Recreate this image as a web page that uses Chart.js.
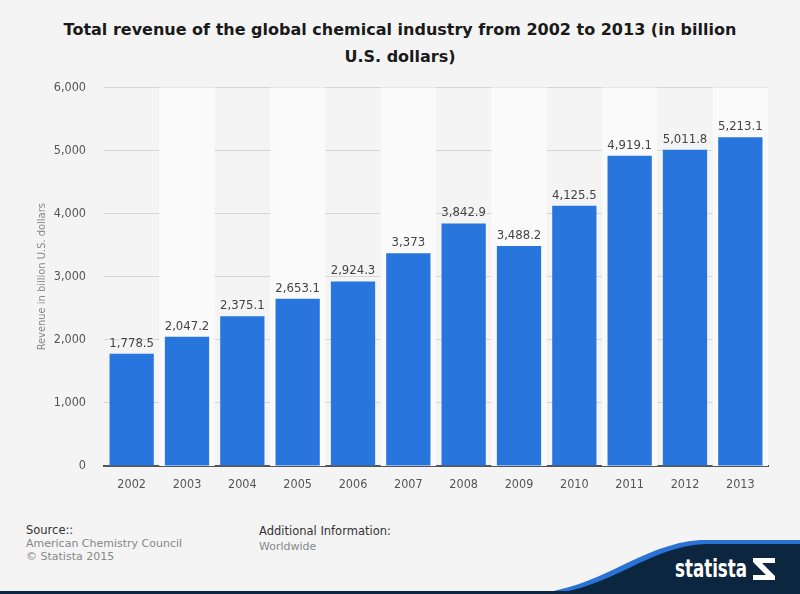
<!DOCTYPE html>
<html>
<head>
<meta charset="utf-8">
<script src="https://cdn.jsdelivr.net/npm/chart.js@4"></script>
<style>
  html, body { margin: 0; padding: 0; }
  body { width: 800px; height: 594px; background: #f4f4f4; position: relative; overflow: hidden;
         font-family: "DejaVu Sans", sans-serif; }
  #title { position: absolute; top: 16px; left: 40px; width: 720px; text-align: center;
           font-weight: bold; font-size: 16px; line-height: 27px; color: #1a1a1a; }
  #wrap { position: absolute; left: 0; top: 62px; width: 775px; height: 433px; }
  .src { position: absolute; font-size: 11px; line-height: 13px; color: #888; }
  .src b { font-weight: normal; color: #333; font-size: 11.5px; }
</style>
</head>
<body>
<div id="title">Total revenue of the global chemical industry from 2002 to 2013 (in billion<br>U.S. dollars)</div>
<div id="wrap"><canvas id="barChart"></canvas></div>
<div class="src" style="left:26px; top:524px;"><b>Source::</b><br>American Chemistry Council<br>© Statista 2015</div>
<div class="src" style="left:259px; top:525px;"><b>Additional Information:</b><br><span style="line-height:17px">Worldwide</span></div>
<svg width="800" height="60" viewBox="0 0 800 60" style="position:absolute;left:0;top:534px">
  <path d="M530 60 C 600 56, 640 10, 700 6 L 800 6 L 800 60 Z" fill="#2a73d6"/>
  <path d="M548 60 C 612 55, 648 12, 706 10 L 800 10 L 800 60 Z" fill="#0d2640"/>
  <rect x="0" y="57" width="800" height="3" fill="#0d2640"/>
  <text x="675" y="43" fill="#fff" font-family="DejaVu Sans" font-weight="bold" font-size="24"
        textLength="72" lengthAdjust="spacingAndGlyphs">statista</text>
  <path d="M753 24 H775 V29 H762 L775 42 V46 H753 V41 H766 L753 28 Z" fill="#fff"/>
</svg>
<script>
// Revenue of the global chemical industry
const years = ["2002", "2003", "2004", "2005", "2006", "2007", "2008", "2009", "2010", "2011", "2012", "2013"];
const revenue = [1778.5, 2047.2, 2375.1, 2653.1, 2924.3, 3373, 3842.9, 3488.2, 4125.5, 4919.1, 5011.8, 5213.1];
const yTicks = [0, 1000, 2000, 3000, 4000, 5000, 6000];

const fmt = v => v.toLocaleString('en-US', { maximumFractionDigits: 1 });
const narrow = '"DejaVu Sans Condensed", "DejaVu Sans"';

// light stripes behind every second column
const stripes = {
    id: 'stripes',
    beforeDatasetsDraw(chart) {
        const { ctx, chartArea, scales } = chart;
        const step = (chartArea.right - chartArea.left) / years.length;
        ctx.save();
        ctx.fillStyle = '#fafafa';
        years.forEach((y, i) => {
            if (i % 2 === 1) {
                const cx = scales.x.getPixelForValue(i);
                ctx.fillRect(cx - step / 2, chartArea.top, step, chartArea.bottom - chartArea.top);
            }
        });
        ctx.restore();
    }
};

// value labels above the bars
const valueLabels = {
    id: 'valueLabels',
    afterDatasetsDraw(chart) {
        const ctx = chart.ctx;
        const meta = chart.getDatasetMeta(0);
        ctx.save();
        ctx.font = '13px ' + narrow;
        ctx.fillStyle = '#444';
        ctx.textAlign = 'center';
        ctx.textBaseline = 'bottom';
        meta.data.forEach((bar, i) => {
            ctx.fillText(fmt(revenue[i]), bar.x, bar.y - 4);
        });
        ctx.restore();
    }
};

const barCanvas = document.getElementById('barChart');
let chart = new Chart(barCanvas, {
    type: 'bar',
    data: {
        labels: years,
        datasets: [{
            label: 'Revenue',
            data: revenue,
            backgroundColor: '#2876dd',
            borderWidth: 0,
            categoryPercentage: 0.8,
            barPercentage: 1.0
        }]
    },
    plugins: [stripes, valueLabels],
    options: {
        responsive: true,
        maintainAspectRatio: false,
        animation: false,
        layout: { padding: { top: 0, right: 7, bottom: 0, left: 0 } },
        plugins: { legend: { display: false }, tooltip: { enabled: false } },
        scales: {
            x: {
                grid: { display: false },
                border: { display: true, color: '#555', width: 2 },
                ticks: { color: '#555', font: { family: narrow, size: 12.5 }, padding: 3 },
                afterFit: s => { s.height = 29; }
            },
            y: {
                min: 0,
                max: 6000,
                afterBuildTicks: s => { s.ticks = yTicks.map(v => ({ value: v })); },
                grid: { color: '#d6d6d6', borderDash: [1, 1], drawTicks: false },
                border: { display: false },
                ticks: { color: '#555', font: { family: narrow, size: 12.5 },
                         padding: 18, callback: v => fmt(v) },
                title: { display: true, text: 'Revenue in billion U.S. dollars', color: '#888',
                         font: { family: narrow, size: 11 }, padding: { top: 36, bottom: 0 } },
                afterFit: s => { s.width = 104; }
            }
        }
    }
});
</script>
</body>
</html>
